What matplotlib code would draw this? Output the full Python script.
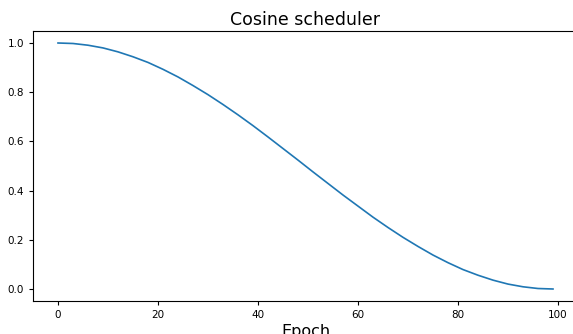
import matplotlib
matplotlib.use("Agg")
import matplotlib.pyplot as plt

# learning-rate multiplier, every 3rd epoch
epochs = [0, 3, 6, 9, 12, 15, 18, 21, 24, 27, 30, 33, 36, 39, 42, 45, 48,
          51, 54, 57, 60, 63, 66, 69, 72, 75, 78, 81, 84, 87, 90, 93, 96, 99]
lr_factor = [1.000, 0.998, 0.991, 0.980, 0.964, 0.944, 0.921, 0.893, 0.862,
             0.827, 0.790, 0.750, 0.708, 0.664, 0.618, 0.571, 0.524,
             0.476, 0.429, 0.382, 0.337, 0.292, 0.250, 0.210, 0.173,
             0.138, 0.107, 0.079, 0.056, 0.036, 0.020, 0.009, 0.002, 0.000]

fig = plt.figure(figsize=(5.73, 3.34), dpi=100)
# axes runs past the right edge, the reference is cropped there
ax = fig.add_axes([33.25 / 573, 1 - 301.3 / 334, 544.5 / 573, 270.6 / 334])
ax.plot(epochs, lr_factor, color="#1f77b4", linewidth=1.2)
ax.set_xlim(-4.95, 103.95)
ax.set_ylim(-0.05, 1.05)
ax.set_xticks([0, 20, 40, 60, 80, 100])
ax.set_yticks([0.0, 0.2, 0.4, 0.6, 0.8, 1.0])
ax.tick_params(labelsize=7.5, length=3)
ax.set_title("Cosine scheduler", fontsize=12.5, pad=4)
ax.set_xlabel("Epoch", fontsize=11.5, labelpad=3)

fig.savefig("out.png", dpi=100)
